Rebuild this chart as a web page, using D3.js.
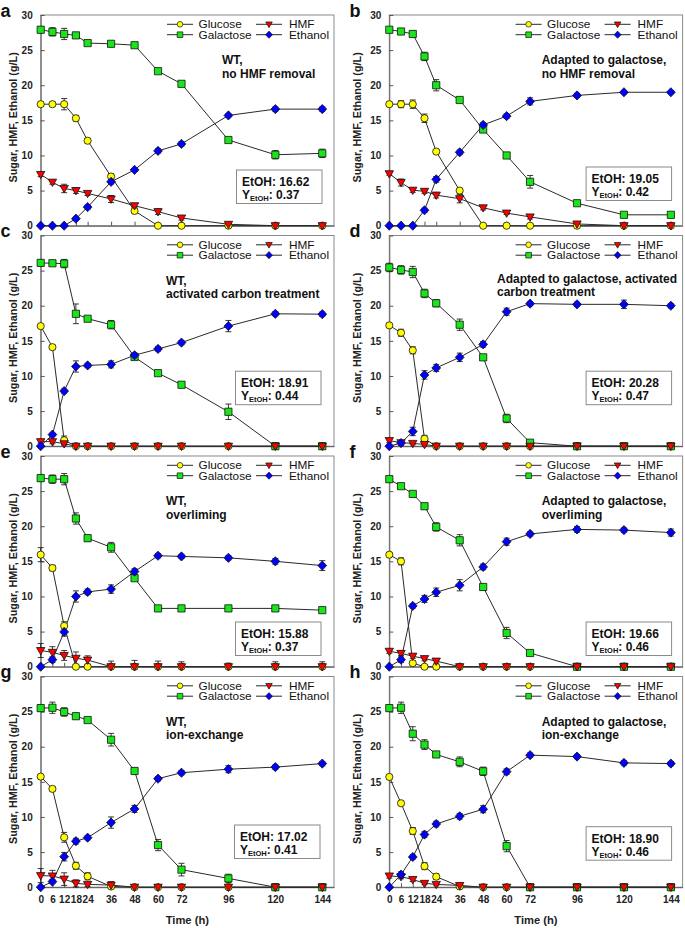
<!DOCTYPE html>
<html><head><meta charset="utf-8">
<script src="https://cdn.jsdelivr.net/npm/d3@7/dist/d3.min.js"></script>
<style>
body{margin:0;background:#fff}
text{font-family:"Liberation Sans",Arial,Helvetica,sans-serif}
</style>
</head><body>
<svg id="chart" width="685" height="928"></svg>
<script>
// ---------------- DATA ----------------
const times = [0, 6, 12, 18, 24, 36, 48, 60, 72, 96, 120, 144];
const xTickLabels = ["0","6","12","18","24","36","48","60","72","96","120","144"];
const yTicks = [0, 5, 10, 15, 20, 25, 30];
const seriesNames = ["Glucose", "Galactose", "HMF", "Ethanol"];
const panelLetters = ["a", "b", "c", "d", "e", "f", "g", "h"];
const conditionText = [
  ["WT,", "no HMF removal"],
  ["Adapted to galactose,", "no HMF removal"],
  ["WT,", "activated carbon treatment"],
  ["Adapted to galactose, activated", "carbon treatment"],
  ["WT,", "overliming"],
  ["Adapted to galactose,", "overliming"],
  ["WT,", "ion-exchange"],
  ["Adapted to galactose,", "ion-exchange"]
];
const etohTiter = ["16.62", "19.05", "18.91", "20.28", "15.88", "19.66", "17.02", "18.90"];
const etohYield = ["0.37", "0.42", "0.44", "0.47", "0.37", "0.46", "0.41", "0.46"];

// panel a
const a_glucose   = [17.3, 17.3, 17.3, 15.3, 12.1, 7.0, 2.1, 0, 0, 0, 0, 0];
const a_galactose = [27.9, 27.6, 27.3, 27.1, 26.0, 25.9, 25.7, 22.0, 20.2, 12.2, 10.1, 10.3];
const a_hmf       = [7.3, 6.2, 5.3, 5.0, 4.6, 3.8, 2.85, 2.0, 1.1, 0.2, 0, 0];
const a_ethanol   = [0, 0, 0, 1.0, 2.65, 6.25, 7.95, 10.65, 11.65, 15.7, 16.6, 16.6];
const a_glucoseErr   = [0.3, 0.3, 0.8, 0.4, 0.3, 0.4, 0.3, 0, 0, 0, 0, 0];
const a_galactoseErr = [0.4, 0.6, 0.8, 0.3, 0.3, 0.3, 0.3, 0.3, 0.3, 0.3, 0.6, 0.6];
const a_hmfErr       = [0.3, 0.3, 0.6, 0.4, 0.3, 0.5, 0.3, 0.4, 0.3, 0.1, 0.1, 0.1];
const a_ethanolErr   = [0, 0, 0, 0.2, 0.3, 0.3, 0.2, 0.3, 0.3, 0.2, 0.3, 0.3];
// panel b
const b_glucose   = [17.3, 17.3, 17.3, 15.3, 10.55, 5.0, 0, 0, 0, 0, 0, 0];
const b_galactose = [27.9, 27.65, 27.3, 24.1, 20.0, 17.9, 13.7, 10.0, 6.25, 3.2, 1.55, 1.55];
const b_hmf       = [7.4, 6.15, 5.05, 4.9, 4.35, 3.85, 2.55, 1.8, 1.25, 0.25, 0, 0];
const b_ethanol   = [0, 0, 0, 2.2, 6.6, 10.45, 14.35, 15.6, 17.7, 18.55, 19.0, 19.0];
const b_glucoseErr   = [0.3, 0.5, 0.6, 0.6, 0.3, 0.3, 0, 0, 0, 0, 0, 0];
const b_galactoseErr = [0.2, 0.2, 0.4, 0.6, 0.8, 0.3, 0.4, 0.3, 0.9, 0.3, 0.2, 0.2];
const b_hmfErr       = [0.2, 0.5, 0.3, 0.3, 0.4, 0.6, 0.3, 0.2, 0.3, 0.1, 0.1, 0.1];
const b_ethanolErr   = [0, 0, 0, 0.3, 0.4, 0.3, 0.3, 0.3, 0.5, 0.3, 0.2, 0.2];
// panel c
const c_glucose   = [17.1, 14.1, 0.85, 0, 0, 0, 0, 0, 0, 0, 0, 0];
const c_galactose = [26.1, 26.05, 26.0, 18.85, 18.15, 17.3, 12.7, 10.4, 8.75, 4.9, 0, 0];
const c_hmf       = [0.65, 0.65, 0.35, 0, 0, 0, 0, 0, 0, 0, 0, 0];
const c_ethanol   = [0, 1.65, 7.85, 11.35, 11.5, 11.65, 12.95, 13.85, 14.75, 17.1, 18.85, 18.8];
const c_glucoseErr   = [0.2, 0.3, 0.6, 0, 0, 0, 0, 0, 0, 0, 0, 0];
const c_galactoseErr = [0.3, 0.3, 0.6, 1.4, 0.3, 0.6, 0.3, 0.3, 0.3, 1.1, 0, 0];
const c_hmfErr       = [0.2, 0.3, 0.2, 0, 0, 0, 0, 0, 0, 0, 0, 0];
const c_ethanolErr   = [0, 0.2, 0.3, 0.8, 0.3, 0.5, 0.3, 0.3, 0.3, 0.8, 0.3, 0.3];
// panel d
const d_glucose   = [17.2, 16.15, 13.65, 1.05, 0, 0, 0, 0, 0, 0, 0, 0];
const d_galactose = [25.45, 25.1, 24.8, 21.75, 20.35, 17.3, 12.65, 3.95, 0.5, 0, 0, 0];
const d_hmf       = [0.8, 0.5, 0.4, 0.25, 0, 0, 0, 0, 0, 0, 0, 0];
const d_ethanol   = [0, 0.45, 2.1, 10.15, 11.15, 12.65, 14.5, 19.15, 20.3, 20.2, 20.2, 20.0];
const d_glucoseErr   = [0.3, 0.5, 0.5, 0.5, 0, 0, 0, 0, 0, 0, 0, 0];
const d_galactoseErr = [0.6, 0.6, 0.8, 0.6, 0.5, 0.8, 0.4, 0.6, 0.2, 0, 0, 0];
const d_hmfErr       = [0.3, 0.3, 0.2, 0.2, 0, 0, 0, 0, 0, 0, 0, 0];
const d_ethanolErr   = [0, 0.3, 0.6, 0.6, 0.5, 0.6, 0.4, 0.5, 0.3, 0.3, 0.6, 0.3];
// panel e
const e_glucose   = [15.95, 14.05, 5.8, 0, 0, 0, 0, 0, 0, 0, 0, 0];
const e_galactose = [26.85, 26.7, 26.7, 21.1, 18.3, 17.0, 12.6, 8.3, 8.3, 8.3, 8.3, 8.05];
const e_hmf       = [2.3, 2.05, 1.6, 1.2, 0.95, 0, 0, 0, 0, 0, 0, 0];
const e_ethanol   = [0, 1.0, 4.95, 10.0, 10.65, 11.05, 13.55, 15.8, 15.7, 15.5, 15.0, 14.4];
const e_glucoseErr   = [1.0, 0.4, 0.6, 0, 0, 0, 0, 0, 0, 0, 0, 0];
const e_galactoseErr = [0.4, 0.6, 0.8, 0.8, 0.4, 0.7, 0.3, 0.3, 0.3, 0.3, 0.3, 0.3];
const e_hmfErr       = [1.0, 0.8, 0.7, 0.9, 0.6, 0.8, 0.9, 0.8, 0.7, 0.5, 0.7, 0.7];
const e_ethanolErr   = [0, 0.4, 0.6, 0.8, 0.4, 0.6, 0.4, 0.3, 0.3, 0.3, 0.4, 0.7];
// panel f
const f_glucose   = [15.95, 15.0, 0.5, 0, 0, 0, 0, 0, 0, 0, 0, 0];
const f_galactose = [26.7, 25.7, 24.6, 22.85, 19.9, 18.0, 11.35, 4.8, 1.95, 0, 0, 0];
const f_hmf       = [2.2, 1.9, 1.5, 1.15, 0.8, 0, 0, 0, 0, 0, 0, 0];
const f_ethanol   = [0, 1.0, 8.65, 9.65, 10.6, 11.6, 14.2, 17.8, 18.9, 19.55, 19.45, 19.1];
const f_glucoseErr   = [0.3, 0.5, 0.3, 0, 0, 0, 0, 0, 0, 0, 0, 0];
const f_galactoseErr = [0.4, 0.3, 0.3, 0.3, 0.6, 0.8, 0.4, 0.8, 0.2, 0, 0, 0];
const f_hmfErr       = [0.3, 0.3, 0.3, 0.3, 0.3, 0.2, 0, 0, 0, 0, 0, 0];
const f_ethanolErr   = [0, 0.4, 0.3, 0.5, 0.6, 0.8, 0.4, 0.5, 0.3, 0.4, 0.3, 0.5];
// panel g
const g_glucose   = [15.75, 14.0, 7.1, 3.05, 1.55, 0.1, 0, 0, 0, 0, 0, 0];
const g_galactose = [25.5, 25.55, 24.95, 24.35, 23.8, 21.0, 16.55, 6.0, 2.5, 1.25, 0, 0];
const g_hmf       = [1.65, 1.6, 1.15, 0.55, 0.4, 0.3, 0, 0, 0, 0, 0, 0];
const g_ethanol   = [0, 0.8, 4.35, 6.55, 7.05, 9.2, 11.15, 15.45, 16.3, 16.8, 17.1, 17.6];
const g_glucoseErr   = [0.3, 0.3, 0.7, 0.5, 0.5, 0.3, 0, 0, 0, 0, 0, 0];
const g_galactoseErr = [0.4, 0.8, 0.6, 0.4, 0.3, 0.9, 0.4, 0.8, 0.9, 0.6, 0, 0];
const g_hmfErr       = [1.0, 0.8, 0.9, 0.5, 0.3, 0.5, 0.2, 0, 0, 0, 0, 0];
const g_ethanolErr   = [0, 0.3, 0.6, 0.4, 0.3, 0.8, 0.5, 0.3, 0.3, 0.5, 0.3, 0.3];
// panel h
const h_glucose   = [15.7, 11.95, 8.0, 3.0, 1.5, 0.1, 0, 0, 0, 0, 0, 0];
const h_galactose = [25.5, 25.55, 21.85, 20.3, 18.9, 17.85, 16.5, 5.85, 0, 0, 0, 0];
const h_hmf       = [1.6, 1.5, 1.1, 0.55, 0.4, 0.25, 0, 0, 0, 0, 0, 0];
const h_ethanol   = [0, 1.8, 4.3, 7.5, 9.0, 10.1, 11.1, 16.45, 18.8, 18.6, 17.7, 17.6];
const h_glucoseErr   = [0.3, 0.3, 0.5, 0.5, 0.4, 0.2, 0, 0, 0, 0, 0, 0];
const h_galactoseErr = [0.4, 0.8, 1.0, 0.7, 0.3, 0.7, 0.6, 0.8, 0, 0, 0, 0];
const h_hmfErr       = [0.3, 0.3, 0.3, 0.2, 0.2, 0.3, 0, 0, 0, 0, 0, 0];
const h_ethanolErr   = [0, 0.4, 0.3, 0.4, 0.4, 0.4, 0.5, 0.4, 0.3, 0.3, 0.3, 0.3];

const panelValues = [
  [a_glucose, a_galactose, a_hmf, a_ethanol],
  [b_glucose, b_galactose, b_hmf, b_ethanol],
  [c_glucose, c_galactose, c_hmf, c_ethanol],
  [d_glucose, d_galactose, d_hmf, d_ethanol],
  [e_glucose, e_galactose, e_hmf, e_ethanol],
  [f_glucose, f_galactose, f_hmf, f_ethanol],
  [g_glucose, g_galactose, g_hmf, g_ethanol],
  [h_glucose, h_galactose, h_hmf, h_ethanol]
];
const panelErrors = [
  [a_glucoseErr, a_galactoseErr, a_hmfErr, a_ethanolErr],
  [b_glucoseErr, b_galactoseErr, b_hmfErr, b_ethanolErr],
  [c_glucoseErr, c_galactoseErr, c_hmfErr, c_ethanolErr],
  [d_glucoseErr, d_galactoseErr, d_hmfErr, d_ethanolErr],
  [e_glucoseErr, e_galactoseErr, e_hmfErr, e_ethanolErr],
  [f_glucoseErr, f_galactoseErr, f_hmfErr, f_ethanolErr],
  [g_glucoseErr, g_galactoseErr, g_hmfErr, g_ethanolErr],
  [h_glucoseErr, h_galactoseErr, h_hmfErr, h_ethanolErr]
];

// ---------------- LAYOUT / STYLE ----------------
const colLeft = [40.7, 389.3];
const rowTop = [15, 235.5, 456, 676.5];
const plotW = 293.3, plotH = 210.7;
const seriesFill = ["#ffff00", "#19e619", "#ff0000", "#0000ff"];
const seriesShape = ["circle", "square", "triDown", "diamond"];
const annotX = [181.3, 152.4, 125.3, 107.7, 125.3, 152.4, 125.3, 152.4];
const annotY = [49, 49, 49, 47, 49, 49, 49, 49];
const boxTopOff = [155, 152, 135.7, 135.7, 166, 166, 148.5, 150.2];
const boxRightOff = [12, 11, 13, 11, 13, 11, 14, 11];

const svg = d3.select("#chart");

function shapePath(shape, s) {
  const r = 3.6 * s;
  switch (shape) {
    case "circle": return d3.symbol(d3.symbolCircle, Math.PI * r * r)();
    case "square": return `M${-r},${-r}H${r}V${r}H${-r}Z`;
    case "triDown": { const w = 4.2 * s; return `M${-w},${-3 * s}H${w}L0,${4.3 * s}Z`; }
    case "diamond": { const w = 4.4 * s, h = 4.6 * s; return `M0,${-h}L${w},0L0,${h}L${-w},0Z`; }
  }
}

for (let p = 0; p < 8; p++) {
  const col = p % 2, row = Math.floor(p / 2);
  const left = colLeft[col], top = rowTop[row];
  const x = d3.scaleLinear().domain([0, 150]).range([left, left + plotW]);
  const y = d3.scaleLinear().domain([0, 30]).range([top + plotH, top]);
  const g = svg.append("g");

  // frame
  g.append("rect").attr("x", left).attr("y", top).attr("width", plotW).attr("height", plotH)
    .attr("fill", "none").attr("stroke", "#8a8a8a").attr("stroke-width", 1);

  // y axis
  const yAxis = d3.axisLeft(y).tickValues(yTicks).tickSizeInner(-4).tickSizeOuter(0).tickPadding(8);
  const ya = g.append("g").attr("transform", `translate(${left},0)`).call(yAxis);
  ya.select(".domain").attr("stroke", "#666");
  ya.selectAll(".tick line").attr("stroke", "#555");
  ya.selectAll(".tick text").attr("font-size", 10).attr("font-weight", "bold").attr("fill", "#222")
    .attr("font-family", "Liberation Sans, Arial, sans-serif");

  // x axis
  const xAxis = d3.axisBottom(x).tickValues(times).tickSizeInner(-4).tickSizeOuter(0).tickPadding(9)
    .tickFormat((d, i) => row === 3 ? xTickLabels[i] : "");
  const xa = g.append("g").attr("transform", `translate(0,${top + plotH})`).call(xAxis);
  xa.select(".domain").attr("stroke", "#555");
  xa.selectAll(".tick line").attr("stroke", "#555");
  xa.selectAll(".tick text").attr("font-size", 10).attr("font-weight", "bold").attr("fill", "#222")
    .attr("font-family", "Liberation Sans, Arial, sans-serif");

  // y title
  const ycx = col === 0 ? 13 : 357.5;
  g.append("text").attr("transform", `translate(${ycx},${top + plotH / 2 - 3}) rotate(-90)`)
    .attr("text-anchor", "middle").attr("dy", "0.35em")
    .attr("font-size", 10.8).attr("font-weight", "bold").attr("fill", "#222")
    .text("Sugar, HMF, Ethanol (g/L)");

  // x title
  if (row === 3) {
    g.append("text").attr("x", left + plotW / 2).attr("y", 924).attr("text-anchor", "middle")
      .attr("font-size", 11.2).attr("font-weight", "bold").attr("fill", "#222").text("Time (h)");
  }

  // panel letter
  g.append("text").attr("x", col === 0 ? 0.5 : 349.5).attr("y", top + 1.5)
    .attr("font-size", 18).attr("font-weight", "bold").attr("fill", "#111").text(panelLetters[p]);

  // lines and error bars
  const line = d3.line().x((d, i) => x(times[i])).y(d => y(d));
  for (let s = 0; s < 4; s++) {
    g.append("path").attr("d", line(panelValues[p][s])).attr("fill", "none")
      .attr("stroke", "#2a2a2a").attr("stroke-width", 1);
  }
  for (let s = 0; s < 4; s++) {
    const vals = panelValues[p][s], errs = panelErrors[p][s];
    vals.forEach((v, i) => {
      const e = errs[i];
      if (e <= 0) return;
      const cx = x(times[i]);
      const y1 = y(Math.max(0, v - e)), y2 = y(v + e);
      g.append("line").attr("x1", cx).attr("x2", cx).attr("y1", y1).attr("y2", y2).attr("stroke", "#222").attr("stroke-width", 0.9);
      g.append("line").attr("x1", cx - 3).attr("x2", cx + 3).attr("y1", y2).attr("y2", y2).attr("stroke", "#222").attr("stroke-width", 0.9);
      if (v - e > 0) g.append("line").attr("x1", cx - 3).attr("x2", cx + 3).attr("y1", y1).attr("y2", y1).attr("stroke", "#222").attr("stroke-width", 0.9);
    });
  }
  // markers
  for (let s = 0; s < 4; s++) {
    g.selectAll(null).data(panelValues[p][s]).enter().append("path")
      .attr("d", shapePath(seriesShape[s], 1))
      .attr("transform", (d, i) => `translate(${x(times[i])},${y(d)})`)
      .attr("fill", seriesFill[s]).attr("stroke", "#111").attr("stroke-width", 0.8);
  }

  // legend
  const right = left + plotW;
  const legendCols = [[0, 1], [2, 3]];
  const lx = [right - 167, right - 78];
  const tx = [right - 135.5, right - 45];
  legendCols.forEach((sers, c) => {
    sers.forEach((s, r) => {
      const ly = top + 9.3 + r * 10.4;
      g.append("line").attr("x1", lx[c]).attr("x2", lx[c] + 26).attr("y1", ly).attr("y2", ly)
        .attr("stroke", "#2a2a2a").attr("stroke-width", 1);
      g.append("path").attr("d", shapePath(seriesShape[s], 0.78))
        .attr("transform", `translate(${lx[c] + 13},${ly})`)
        .attr("fill", seriesFill[s]).attr("stroke", "#111").attr("stroke-width", 0.7);
      g.append("text").attr("x", tx[c]).attr("y", ly + 4.1).attr("font-size", 11.8).attr("fill", "#111")
        .text(seriesNames[s]);
    });
  });

  // condition annotation
  conditionText[p].forEach((t, k) => {
    g.append("text").attr("x", left + annotX[p]).attr("y", top + annotY[p] + k * 13.5)
      .attr("font-size", 12).attr("font-weight", "bold").attr("fill", "#111").text(t);
  });

  // EtOH box
  const bw = 85.5, bh = 33.5;
  const bx = right - boxRightOff[p] - bw, by = top + boxTopOff[p];
  g.append("rect").attr("x", bx).attr("y", by).attr("width", bw).attr("height", bh)
    .attr("fill", "#fff").attr("stroke", "#8a8a8a").attr("stroke-width", 1);
  g.append("text").attr("x", bx + 5.5).attr("y", by + 16).attr("font-size", 12).attr("font-weight", "bold")
    .attr("fill", "#111").text("EtOH: " + etohTiter[p]);
  const t2 = g.append("text").attr("x", bx + 5.5).attr("y", by + 29).attr("font-size", 12).attr("font-weight", "bold").attr("fill", "#111");
  t2.append("tspan").text("Y");
  t2.append("tspan").attr("font-size", 7.5).attr("dy", 2).text("EtOH");
  t2.append("tspan").attr("dy", -2).text(": " + etohYield[p]);
}
</script>
</body></html>
